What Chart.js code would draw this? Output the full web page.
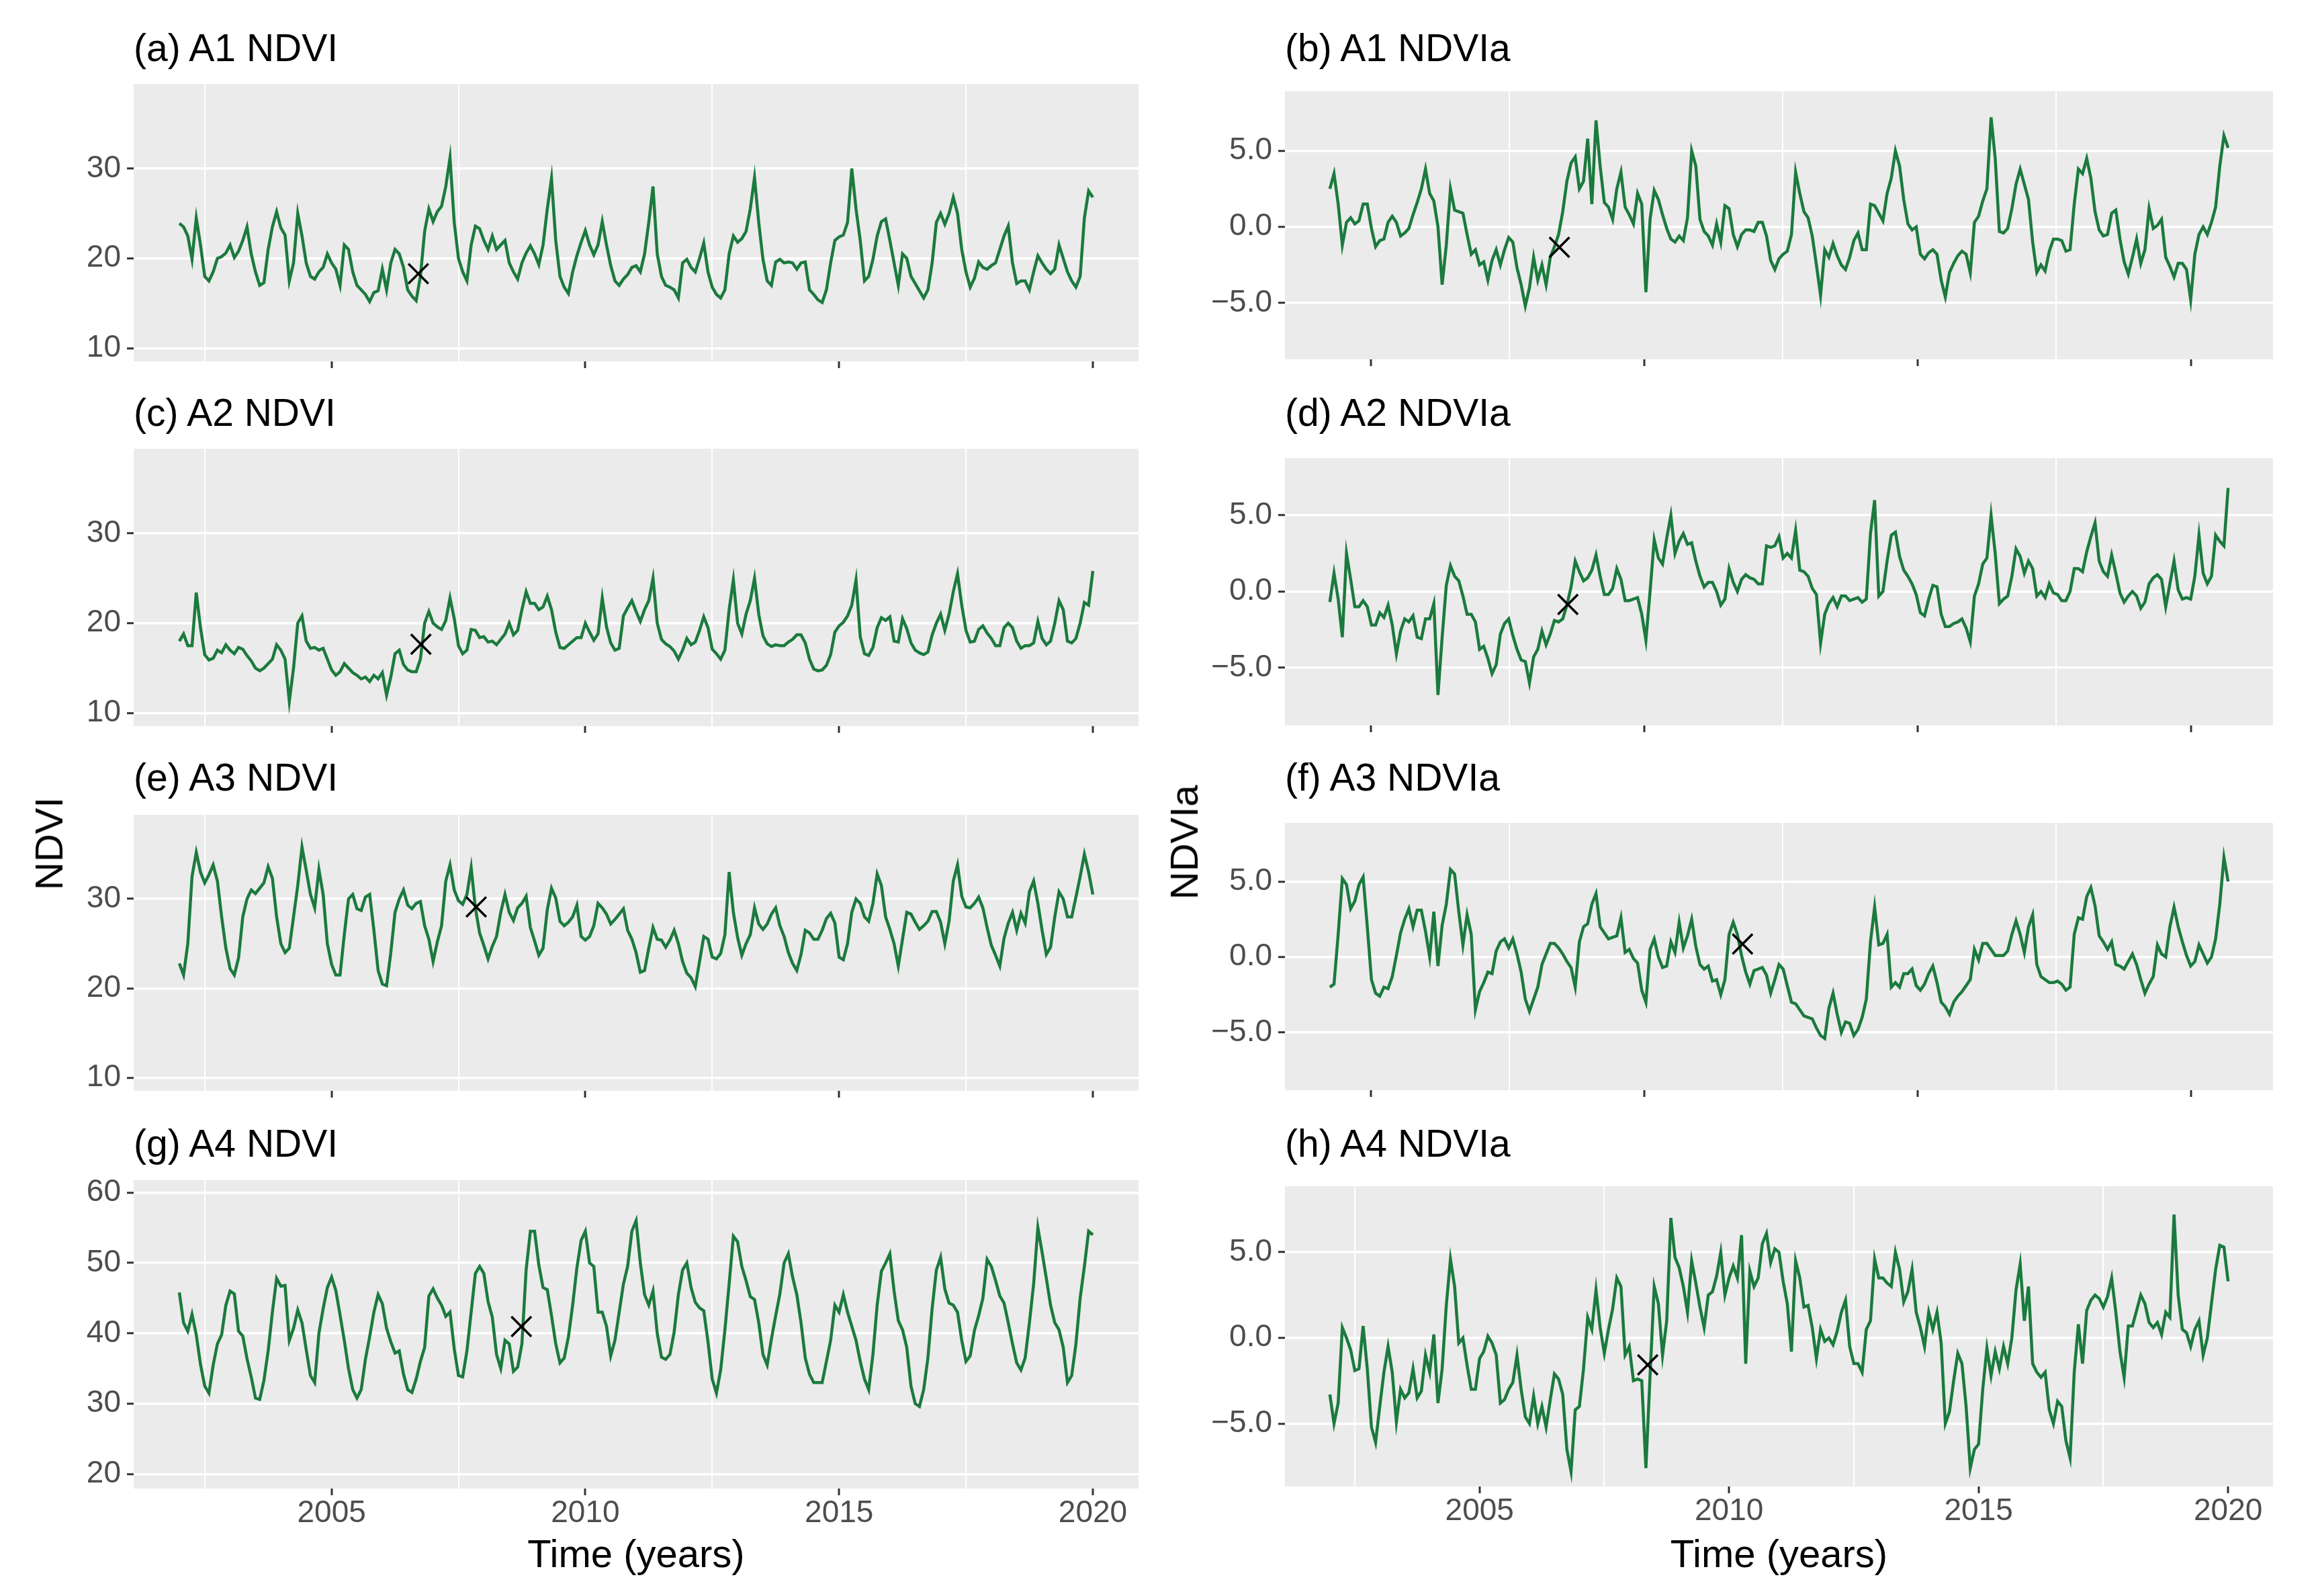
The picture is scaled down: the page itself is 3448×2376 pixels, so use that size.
<!DOCTYPE html>
<html>
<head>
<meta charset="utf-8">
<script src="https://cdn.jsdelivr.net/npm/chart.js@4.4.1/dist/chart.umd.min.js"></script>
<style>
  html, body { margin: 0; padding: 0; background: #fff; }
  #page { position: relative; width: 3448px; height: 2376px; overflow: hidden;
          font-family: "Liberation Sans", Arial, sans-serif; }
  #page canvas { position: absolute; }
  .lbl { position: absolute; white-space: nowrap; line-height: 1; color: #000; }
</style>
</head>
<body>
<div id="page"></div>
<script>
Chart.defaults.font.family = '"Liberation Sans", Arial, sans-serif';
Chart.defaults.animation = false;

// monthly series, first value at 2002.0
const startYear = 2002;
const perYear = 12;

const yearTicks = [2005, 2010, 2015, 2020];
const yearGrid = [2002.5, 2007.5, 2012.5, 2017.5];
// upper NDVIa panels have their own (unlabelled) breaks
const oddTicks = [2002.82, 2008.3, 2013.78, 2019.26];
const oddGrid = [2005.59, 2011.07, 2016.55];

const ndviTicks = [10, 20, 30];
const ndviA4Ticks = [20, 30, 40, 50, 60];
const anomalyTicks = [-5, 0, 5];

const ndviA1 = [
  23.9, 23.5, 22.5, 19.9, 24.5, 21.5, 18.0, 17.5, 18.5, 20.0, 20.2, 20.6,
  21.5, 20.1, 20.8, 22.0, 23.5, 20.5, 18.5, 17.0, 17.3, 21.0, 23.5, 25.2,
  23.4, 22.6, 17.5, 19.5, 25.0, 22.5, 19.5, 18.0, 17.7, 18.5, 19.0, 20.5,
  19.5, 18.8, 17.0, 21.5, 21.0, 18.5, 17.0, 16.5, 16.0, 15.2, 16.2, 16.4,
  18.8, 16.5, 19.5, 21.0, 20.5, 19.0, 16.5, 15.8, 15.3, 18.0, 23.0, 25.5,
  24.1, 25.2, 25.8, 28.0, 31.2, 24.0, 20.0, 18.5, 17.5, 21.5, 23.6, 23.3,
  22.0, 21.0, 22.5, 21.0, 21.5, 22.0, 19.5, 18.5, 17.7, 19.5, 20.6, 21.4,
  20.5, 19.3, 21.5, 25.5, 28.9, 22.0, 18.0, 16.8, 16.1, 18.5, 20.3, 21.8,
  23.1, 21.5, 20.4, 21.5, 24.1, 21.5, 19.2, 17.5, 17.0, 17.7, 18.2, 19.0,
  19.2, 18.5, 20.5, 24.0, 28.0, 20.5, 18.0, 17.0, 16.8, 16.5, 15.6, 19.5,
  19.9, 19.0, 18.5, 20.0, 21.7, 18.5, 16.8, 16.0, 15.6, 16.5, 20.5, 22.5,
  21.8, 22.2, 23.0, 25.5, 29.0, 24.0, 19.9, 17.5, 17.0, 19.6, 19.9, 19.5,
  19.6, 19.5, 18.8, 19.5, 19.6, 16.5, 16.0, 15.4, 15.1, 16.5, 19.5, 22.0,
  22.4, 22.6, 24.0, 30.0, 25.5, 22.0, 17.5, 18.0, 19.9, 22.5, 24.1, 24.4,
  22.0, 19.5, 17.0, 20.5, 20.0, 18.0, 17.2, 16.4, 15.6, 16.5, 19.5, 24.0,
  25.0, 23.8, 25.0, 26.8, 25.0, 21.0, 18.5, 16.8, 17.8, 19.6, 19.0, 18.8,
  19.2, 19.5, 21.0, 22.5, 23.6, 19.5, 17.2, 17.5, 17.5, 16.5, 18.5, 20.3,
  19.5, 18.8, 18.3, 18.8, 21.5, 20.0, 18.5, 17.5, 16.8, 18.0, 24.5, 27.5,
  26.8
];

const ndviaA1 = [
  2.5, 3.5, 1.5, -1.2, 0.3, 0.6, 0.2, 0.4, 1.5, 1.5, -0.1, -1.3,
  -0.9, -0.8, 0.3, 0.7, 0.3, -0.6, -0.4, -0.1, 0.8, 1.6, 2.5, 3.8,
  2.2, 1.7, 0.0, -3.8, -1.2, 2.5, 1.1, 1.0, 0.9, -0.5, -1.8, -1.5,
  -2.5, -2.3, -3.5, -2.2, -1.5, -2.5, -1.5, -0.7, -1.0, -2.7, -3.8, -5.2,
  -4.0, -2.0, -3.5, -2.5, -3.8, -2.0, -1.3, -0.5, 1.0, 3.0, 4.2, 4.6,
  2.5, 3.0, 5.8, 1.5, 7.0, 4.0, 1.6, 1.3, 0.5, 2.5, 3.6, 1.3,
  0.8, 0.2, 2.2, 1.5, -4.3, 0.5, 2.4, 1.8, 0.8, -0.1, -0.8, -1.0,
  -0.6, -0.9, 0.6, 5.0, 4.0, 0.5, -0.3, -0.6, -1.2, 0.2, -1.0, 1.4,
  1.2, -0.5, -1.3, -0.5, -0.2, -0.2, -0.3, 0.3, 0.3, -0.6, -2.2, -2.8,
  -2.1, -1.8, -1.6, -0.5, 3.6, 2.2, 1.0, 0.6, -0.6, -2.5, -4.5, -1.5,
  -2.0, -1.1, -1.9, -2.5, -2.8, -2.0, -0.9, -0.4, -1.5, -1.5, 1.5, 1.4,
  0.9, 0.4, 2.2, 3.2, 5.0, 4.0, 1.8, 0.2, -0.2, 0.0, -1.8, -2.1,
  -1.7, -1.5, -1.8, -3.5, -4.6, -3.0, -2.4, -1.9, -1.6, -1.8, -3.0, 0.3,
  0.7, 1.7, 2.5, 7.2, 4.5, -0.3, -0.4, -0.1, 1.2, 2.8, 3.8, 2.8,
  1.8, -1.0, -3.0, -2.5, -2.9, -1.6, -0.8, -0.8, -0.9, -1.6, -1.5, 1.5,
  3.8, 3.5, 4.5, 3.2, 1.0, -0.2, -0.6, -0.5, 0.9, 1.1, -0.8, -2.3,
  -3.1, -2.0, -0.8, -2.4, -1.5, 1.2, -0.1, 0.1, 0.5, -2.0, -2.6, -3.3,
  -2.4, -2.4, -2.8, -4.8, -1.8, -0.5, 0.0, -0.5, 0.3, 1.3, 4.0, 6.0,
  5.2
];

const ndviA2 = [
  18.0, 18.8, 17.5, 17.5, 23.4, 19.5, 16.5, 15.9, 16.1, 17.0, 16.7, 17.6,
  17.0, 16.6, 17.3, 17.1, 16.4, 15.8, 15.0, 14.7, 15.0, 15.5, 16.0, 17.6,
  17.0, 16.0, 11.3, 15.0, 20.0, 20.8, 18.0, 17.2, 17.3, 17.0, 17.2, 16.0,
  14.8, 14.2, 14.6, 15.5, 15.0, 14.5, 14.2, 13.8, 14.0, 13.5, 14.2, 13.8,
  14.5, 12.0, 14.0, 16.6, 17.0, 15.4, 14.8, 14.6, 14.6, 16.0, 20.0, 21.3,
  20.0, 19.6, 19.3, 20.3, 22.8, 20.5, 17.5, 16.6, 17.0, 19.3, 19.2, 18.4,
  18.5, 17.9, 18.0, 17.6, 18.2, 18.8, 20.0, 18.7, 19.2, 21.5, 23.5, 22.2,
  22.2, 21.5, 21.8, 23.0, 21.5, 19.0, 17.3, 17.2, 17.6, 18.0, 18.4, 18.4,
  20.0, 19.0, 18.1, 18.8, 22.8, 19.6, 17.8, 17.0, 17.2, 20.8, 21.7, 22.5,
  21.3, 20.2, 21.5, 22.5, 25.0, 20.0, 18.2, 17.7, 17.4, 16.9, 16.0, 17.0,
  18.3, 17.6, 17.9, 19.2, 20.7, 19.5, 17.1, 16.6, 16.0, 17.0, 21.5, 24.8,
  20.0, 18.8, 21.0, 22.5, 25.0, 21.0, 18.6, 17.7, 17.4, 17.6, 17.5, 17.5,
  17.9, 18.2, 18.7, 18.7, 17.8, 16.0, 14.9, 14.7, 14.8, 15.3, 16.5, 19.0,
  19.7, 20.1, 20.8, 22.0, 24.8, 18.5, 16.6, 16.4, 17.3, 19.5, 20.6, 20.3,
  20.7, 18.0, 17.9, 20.5, 19.4, 17.8, 17.0, 16.7, 16.5, 16.8, 18.7, 20.0,
  21.0, 19.2, 21.0, 23.5, 25.5, 22.0, 19.2, 17.9, 18.0, 19.3, 19.7, 18.9,
  18.3, 17.5, 17.5, 19.5, 20.0, 19.5, 18.0, 17.2, 17.5, 17.5, 17.8, 20.2,
  18.3, 17.6, 18.0, 20.0, 22.5, 21.5, 18.0, 17.8, 18.3, 20.0, 22.3, 22.0,
  25.8
];

const ndviaA2 = [
  -0.7, 1.2, -0.5, -3.0, 2.5, 0.8, -1.0, -1.0, -0.6, -1.0, -2.2, -2.2,
  -1.4, -1.7, -0.9, -2.2, -4.1, -2.6, -1.8, -2.0, -1.6, -3.0, -3.1, -1.8,
  -1.8, -0.8, -6.8, -3.0, 0.4, 1.7, 1.0, 0.7, -0.3, -1.5, -1.5, -2.0,
  -3.8, -3.6, -4.4, -5.4, -4.8, -2.8, -2.1, -1.8, -2.9, -3.8, -4.5, -4.6,
  -6.0, -4.3, -3.8, -2.6, -3.5, -2.8, -1.9, -2.0, -1.8, -0.9, 0.3, 2.0,
  1.3, 0.7, 0.9, 1.4, 2.4, 1.0, -0.2, -0.2, 0.2, 1.5, 0.8, -0.6,
  -0.6, -0.5, -0.4, -1.5, -3.2, 0.0, 3.4, 2.2, 1.8, 3.5, 5.0, 2.5,
  3.3, 3.8, 3.1, 3.2, 2.0, 1.0, 0.3, 0.6, 0.6, 0.0, -0.9, -0.5,
  1.5, 0.6, 0.0, 0.8, 1.1, 0.9, 0.8, 0.5, 0.5, 3.0, 2.9, 3.0,
  3.6, 2.2, 2.5, 2.2, 4.0, 1.4, 1.3, 1.0, 0.2, -0.2, -3.4, -1.5,
  -0.8, -0.4, -1.0, -0.3, -0.3, -0.6, -0.5, -0.4, -0.7, -0.5, 3.8, 6.0,
  -0.3, 0.0, 2.0, 3.7, 3.9, 2.3, 1.4, 1.0, 0.5, -0.2, -1.4, -1.6,
  -0.5, 0.4, 0.3, -1.5, -2.3, -2.3, -2.1, -2.0, -1.8, -2.4, -3.3, -0.3,
  0.5, 1.8, 2.2, 5.0, 2.5, -0.8, -0.5, -0.3, 1.0, 2.8, 2.3, 1.2,
  2.0, 1.5, -0.3, 0.0, -0.4, 0.5, -0.1, -0.2, -0.6, -0.6, 0.0, 1.5,
  1.5, 1.3, 2.6, 3.6, 4.5, 2.0, 1.3, 1.0, 2.4, 1.2, -0.1, -0.7,
  -0.3, 0.0, -0.3, -1.1, -0.7, 0.5, 0.9, 1.1, 0.8, -1.0, 0.5, 2.0,
  0.1, -0.5, -0.4, -0.5, 1.0, 3.7, 1.2, 0.5, 1.0, 3.7, 3.3, 3.0,
  6.8
];

const ndviA3 = [
  22.8, 21.5, 25.0, 32.5, 35.2, 33.0, 31.8, 32.7, 33.8, 32.0, 28.0, 24.5,
  22.2, 21.5, 23.4, 28.0, 30.0, 31.0, 30.6, 31.2, 31.8, 33.6, 32.3, 28.0,
  25.0, 24.0, 24.5, 28.0, 31.5, 35.8, 33.2, 30.5, 29.0, 33.3, 30.5, 25.0,
  22.7, 21.5, 21.5, 26.0, 30.0, 30.5, 28.9, 28.7, 30.2, 30.5, 26.5, 22.0,
  20.5, 20.3, 24.0, 28.5, 30.0, 31.0, 29.3, 28.9, 29.5, 29.7, 27.0, 25.5,
  23.0, 25.2, 27.0, 32.0, 33.8, 31.0, 29.8, 29.4, 30.5, 33.5, 29.0, 26.2,
  24.8, 23.3, 24.7, 25.8, 28.5, 30.5, 28.5, 27.6, 29.0, 29.5, 30.3, 26.8,
  25.3, 23.7, 24.5, 28.8, 31.2, 30.1, 27.5, 27.0, 27.4, 28.0, 29.3, 25.8,
  25.4, 25.8, 27.0, 29.5, 29.0, 28.3, 27.2, 27.7, 28.3, 28.9, 26.5, 25.5,
  24.0, 21.8, 22.0, 24.5, 26.8, 25.5, 25.4, 24.6, 25.4, 26.5, 25.0, 23.0,
  21.7, 21.2, 20.2, 23.0, 25.8, 25.5, 23.5, 23.3, 23.9, 26.0, 33.0, 28.5,
  25.7, 23.7, 25.0, 26.0, 29.0, 27.2, 26.6, 27.2, 28.3, 29.0, 27.0, 25.8,
  24.0, 22.8, 22.0, 23.8, 26.5, 26.2, 25.5, 25.5, 26.5, 27.8, 28.4, 27.3,
  23.5, 23.2, 25.0, 28.5, 30.0, 29.5, 28.0, 27.5, 29.5, 32.8, 31.5, 28.0,
  26.6, 25.0, 22.5, 25.5, 28.5, 28.3, 27.4, 26.6, 27.0, 27.5, 28.6, 28.6,
  27.4, 25.0, 27.5, 32.0, 33.8, 30.3, 29.1, 29.0, 29.5, 30.2, 29.0, 26.8,
  24.8, 23.7, 22.5, 25.6, 27.3, 28.5, 26.5, 28.4, 27.3, 30.8, 32.0, 29.5,
  26.5, 23.8, 24.6, 28.0, 30.8, 30.0, 28.0, 28.0, 30.2, 32.5, 35.0, 33.0,
  30.5
];

const ndviaA3 = [
  -2.0, -1.8, 1.5, 5.2, 4.8, 3.2, 3.7, 4.8, 5.3, 2.0, -1.5, -2.4,
  -2.6, -2.0, -2.1, -1.3, 0.1, 1.6, 2.5, 3.2, 2.0, 3.1, 3.1, 1.7,
  0.0, 3.0, -0.6, 2.1, 3.5, 5.8, 5.5, 3.0, 0.8, 2.8, 1.5, -3.5,
  -2.3, -1.7, -1.0, -1.1, 0.4, 1.0, 1.2, 0.6, 1.2, 0.2, -1.0, -2.8,
  -3.6, -2.8, -2.0, -0.5, 0.2, 0.9, 0.9, 0.6, 0.2, -0.3, -0.7, -2.0,
  1.0, 2.0, 2.2, 3.5, 4.2, 2.0, 1.6, 1.2, 1.3, 1.4, 2.6, 0.3,
  0.5, -0.1, -0.4, -2.2, -3.0, 0.5, 1.2, 0.0, -0.7, -0.6, 1.0, 0.3,
  2.3, 0.6, 1.4, 2.5, 0.7, -0.5, -0.8, -0.6, -1.6, -1.5, -2.5, -1.5,
  1.5, 2.3, 1.5, 0.1, -1.0, -1.8, -0.9, -0.8, -0.7, -1.2, -2.4, -1.5,
  -0.5, -0.8, -1.9, -3.0, -3.1, -3.5, -3.9, -4.0, -4.1, -4.7, -5.2, -5.4,
  -3.4, -2.4, -3.8, -5.0, -4.3, -4.4, -5.2, -4.8, -4.0, -2.8, 1.0, 3.3,
  0.8, 0.9, 1.5, -2.0, -1.7, -2.0, -1.1, -1.1, -0.8, -1.9, -2.2, -1.8,
  -1.1, -0.6, -1.7, -3.0, -3.3, -3.8, -3.0, -2.6, -2.3, -1.9, -1.5, 0.5,
  -0.2, 0.9, 0.9, 0.5, 0.1, 0.1, 0.1, 0.4, 1.5, 2.4, 1.5, 0.3,
  2.0, 2.8, -0.5, -1.3, -1.5, -1.7, -1.7, -1.6, -1.8, -2.2, -2.0, 1.5,
  2.6, 2.5, 4.0, 4.6, 3.4, 1.4, 1.0, 0.5, 1.0, -0.5, -0.6, -0.8,
  -0.3, 0.2, -0.5, -1.5, -2.4, -1.8, -1.3, 0.8, 0.2, 0.0, 2.0, 3.3,
  2.0, 1.0, 0.1, -0.6, -0.3, 0.8, 0.2, -0.4, 0.0, 1.2, 3.5, 6.6,
  5.0
];

const ndviA4 = [
  45.8, 41.5, 40.3, 42.7, 39.8, 35.6, 32.5, 31.5, 35.5, 38.5, 39.8, 44.0,
  46.0, 45.6, 40.3, 39.6, 36.4, 33.8, 30.8, 30.6, 33.3, 37.5, 43.0, 47.8,
  46.7, 46.8, 39.0, 40.7, 43.3, 41.5, 37.7, 34.0, 33.0, 40.0, 43.5, 46.5,
  48.0, 46.1, 42.6, 39.0, 35.0, 32.0, 30.8, 32.0, 36.3, 39.5, 43.0, 45.5,
  44.2, 40.7, 38.8, 37.2, 37.5, 34.2, 32.0, 31.6, 33.5, 36.0, 38.0, 45.3,
  46.3, 45.0, 44.0, 42.4, 43.0, 37.8, 34.0, 33.8, 37.5, 43.0, 48.5, 49.5,
  48.5, 44.5, 42.3, 37.0, 35.0, 39.0, 38.5, 34.6, 35.2, 38.5, 49.0, 54.5,
  54.5, 49.7, 46.5, 46.2, 42.5, 38.5, 35.8, 36.5, 39.5, 44.0, 49.3, 53.2,
  54.5, 50.0, 49.5, 43.0, 43.0, 41.0, 36.8, 39.0, 43.0, 47.0, 49.5, 54.5,
  56.0, 50.0, 45.5, 44.0, 46.0, 40.0, 36.6, 36.3, 37.0, 40.2, 45.5, 49.0,
  50.0, 46.5, 44.4, 43.6, 43.2, 38.8, 33.5, 31.5, 34.8, 40.5, 47.0, 53.8,
  53.0, 49.5, 47.5, 45.2, 44.8, 41.5, 37.0, 35.5, 39.2, 42.5, 45.6, 50.0,
  51.3, 48.0, 45.5, 41.5, 36.5, 34.2, 33.0, 33.0, 33.0, 36.0, 39.0, 44.0,
  43.0, 45.5, 43.0, 41.0, 39.0, 36.0, 33.5, 32.0, 37.0, 44.0, 48.8, 50.0,
  51.3, 46.0, 41.8, 40.5, 38.0, 32.5, 30.0, 29.6, 32.0, 36.5, 43.5, 49.0,
  50.8, 46.3, 44.3, 44.0, 43.0, 39.0, 36.0, 36.8, 40.4, 42.5, 45.0, 50.5,
  49.5, 47.5, 45.3, 44.3, 41.5, 38.5, 35.8, 34.8, 36.5, 41.5, 47.0, 55.0,
  51.5, 47.8, 44.0, 41.5, 40.5, 38.0, 33.0, 34.0, 38.5, 45.0, 49.5, 54.5,
  54.0
];

const ndviaA4 = [
  -3.3, -5.0, -3.8, 0.6, 0.0, -0.7, -1.9, -1.8, 0.7, -1.8, -5.2, -6.1,
  -4.0, -2.0, -0.5, -2.0, -4.9, -3.0, -3.5, -3.2, -1.8, -3.5, -3.1, -1.0,
  -2.0, 0.2, -3.8, -1.8, 1.9, 4.6, 3.0, -0.3, 0.0, -1.6, -3.0, -3.0,
  -1.2, -0.8, 0.1, -0.3, -1.0, -3.8, -3.6, -3.0, -2.6, -1.0, -3.0, -4.6,
  -5.0, -3.4, -5.0, -4.0, -5.2, -3.6, -2.1, -2.4, -3.3, -6.5, -7.8, -4.2,
  -4.0, -1.8, 1.2, 0.5, 2.8, 0.6, -0.9, 0.5, 1.7, 3.5, 3.0, -1.0,
  -0.5, -2.5, -2.4, -2.5, -7.6, -2.2, 3.0, 2.0, -1.0, 1.0, 7.0, 4.7,
  4.1, 3.0, 1.5, 4.5, 3.2, 1.8, 0.6, 2.5, 2.7, 3.6, 5.0, 2.5,
  3.5, 4.2, 3.5, 6.0, -1.5, 3.9, 3.0, 3.5, 5.5, 6.1, 4.4, 5.2,
  5.0, 3.3, 2.0, -0.8, 4.5, 3.5, 1.8, 1.9, 0.6, -1.2, 0.5, -0.2,
  0.0, -0.4, 0.4, 1.5, 2.2, -0.5, -1.5, -1.5, -2.0, 0.5, 1.0, 4.6,
  3.5, 3.5, 3.2, 3.0, 5.0, 4.0, 2.1, 2.7, 4.0, 1.5, 0.6, -0.5,
  1.5, 0.5, 1.5, -0.3, -5.0, -4.3, -2.5, -0.9, -1.5, -4.0, -7.6, -6.5,
  -6.2, -3.0, -0.6, -2.2, -0.8, -1.8, -0.5, -1.5, 0.0, 2.8, 4.3, 1.0,
  3.0, -1.5, -2.0, -2.3, -2.0, -4.2, -5.0, -3.7, -4.0, -6.0, -7.0, -2.0,
  0.8, -1.5, 1.6, 2.2, 2.5, 2.3, 1.8, 2.4, 3.5, 1.5, -0.8, -2.3,
  0.7, 0.7, 1.6, 2.5, 2.0, 0.9, 0.6, 0.9, 0.2, 1.5, 1.2, 7.2,
  2.5, 0.5, 0.3, -0.5, 0.5, 1.0, -1.0, 0.0, 2.0, 4.0, 5.4, 5.3,
  3.3
];

// the "x" marks, one per panel (a..h)
const markerYears = [2006.71, 2006.60, 2006.76, 2006.77, 2007.85, 2010.27, 2008.74, 2008.37];
const markerValues = [18.3, -1.34, 17.65, -0.85, 29.1, 0.86, 40.96, -1.57];

const GREEN = '#1b7a3d';
const YW = 200, PAD_T = 40, PAD_R = 40, XH = 90;
const TITLE_PX = 57, AXIS_TITLE_PX = 58, TICK_PX = 46;
const cols = { L: { x: 199, w: 1496 }, R: { x: 1913, w: 1471 } };

const panels = [
  { title: '(a) A1 NDVI',  values: ndviA1,  col: 'L', top: 125,  h: 413, titleY: 91,   y: [8.55, 39.4],   yTicks: ndviTicks },
  { title: '(b) A1 NDVIa', values: ndviaA1, col: 'R', top: 136,  h: 399, titleY: 91,   y: [-8.71, 8.91],  yTicks: anomalyTicks, odd: true },
  { title: '(c) A2 NDVI',  values: ndviA2,  col: 'L', top: 668,  h: 413, titleY: 634,  y: [8.55, 39.4],   yTicks: ndviTicks },
  { title: '(d) A2 NDVIa', values: ndviaA2, col: 'R', top: 682,  h: 398, titleY: 634,  y: [-8.8, 8.76],   yTicks: anomalyTicks, odd: true },
  { title: '(e) A3 NDVI',  values: ndviA3,  col: 'L', top: 1213, h: 411, titleY: 1177, y: [8.55, 39.4],   yTicks: ndviTicks },
  { title: '(f) A3 NDVIa', values: ndviaA3, col: 'R', top: 1225, h: 398, titleY: 1177, y: [-8.83, 8.89],  yTicks: anomalyTicks, odd: true },
  { title: '(g) A4 NDVI',  values: ndviA4,  col: 'L', top: 1757, h: 459, titleY: 1722, y: [17.95, 61.75], yTicks: ndviA4Ticks, bottom: true },
  { title: '(h) A4 NDVIa', values: ndviaA4, col: 'R', top: 1766, h: 447, titleY: 1722, y: [-8.67, 8.85],  yTicks: anomalyTicks, bottom: true }
];

const page = document.getElementById('page');

// grey ggplot panel behind the grid
const panelBg = {
  id: 'panelBg',
  beforeDraw(chart) {
    const { ctx, chartArea: a } = chart;
    ctx.save();
    ctx.fillStyle = '#ebebeb';
    ctx.fillRect(a.left, a.top, a.right - a.left, a.bottom - a.top);
    ctx.restore();
  }
};

const fmtAnomaly = v => (v < 0 ? '\u2212' : '') + Math.abs(v).toFixed(1);

// text placed by its baseline (line-height 1, Liberation Sans ascent/descent)
const addText = (text, x, baseline, size, extra) => {
  const d = document.createElement('div');
  d.className = 'lbl';
  d.textContent = text;
  d.style.fontSize = size + 'px';
  d.style.left = x + 'px';
  d.style.top = (baseline - 0.8465 * size) + 'px';
  if (extra) Object.assign(d.style, extra);
  page.appendChild(d);
};

panels.forEach((p, i) => {
  const col = cols[p.col];
  const W = YW + col.w + PAD_R, H = PAD_T + p.h + XH;
  const cv = document.createElement('canvas');
  cv.width = W; cv.height = H;
  cv.style.left = (col.x - YW) + 'px';
  cv.style.top = (p.top - PAD_T) + 'px';
  cv.style.width = W + 'px'; cv.style.height = H + 'px';
  page.appendChild(cv);

  const majors = p.odd ? oddTicks : yearTicks;
  const minors = p.odd ? oddGrid : yearGrid;
  const isMinor = ctx => ctx.tick && minors.includes(ctx.tick.value);
  const anomaly = p.yTicks === anomalyTicks;

  new Chart(cv, {
    type: 'line',
    data: {
      datasets: [
        {
          type: 'scatter',
          data: [{ x: markerYears[i], y: markerValues[i] }],
          pointStyle: 'crossRot',
          pointRadius: 21,
          pointBorderWidth: 3.5,
          pointBorderColor: '#000',
          pointBackgroundColor: '#000',
          order: 0
        },
        {
          data: p.values.map((v, k) => ({ x: startYear + k / perYear, y: v })),
          borderColor: GREEN,
          borderWidth: 4.5,
          pointRadius: 0,
          tension: 0,
          order: 1
        }
      ]
    },
    options: {
      responsive: false,
      devicePixelRatio: 1,
      animation: false,
      layout: { padding: { top: PAD_T, right: PAD_R, left: 0, bottom: 0 } },
      plugins: { legend: { display: false }, tooltip: { enabled: false } },
      scales: {
        x: {
          type: 'linear',
          min: 2001.1,
          max: 2020.9,
          afterBuildTicks: s => { s.ticks = minors.concat(majors).sort((a, b) => a - b).map(v => ({ value: v })); },
          afterFit: s => { s.height = XH; },
          border: { display: false },
          grid: {
            color: c => isMinor(c) ? '#ffffff' : 'rgba(0,0,0,0)',
            lineWidth: 2,
            tickColor: c => isMinor(c) ? 'rgba(0,0,0,0)' : '#333333',
            tickLength: 10,
            tickWidth: 3
          },
          ticks: {
            autoSkip: false,
            maxRotation: 0,
            minRotation: 0,
            padding: 0,
            color: '#4d4d4d',
            font: { size: TICK_PX },
            callback: v => (p.bottom && yearTicks.includes(v)) ? String(v) : ''
          }
        },
        y: {
          min: p.y[0],
          max: p.y[1],
          afterBuildTicks: s => { s.ticks = p.yTicks.map(v => ({ value: v })); },
          afterFit: s => { s.width = YW; },
          border: { display: false },
          grid: {
            color: '#ffffff',
            lineWidth: 3.5,
            tickColor: '#333333',
            tickLength: 10,
            tickWidth: 3
          },
          ticks: {
            padding: 9,
            color: '#4d4d4d',
            font: { size: TICK_PX },
            callback: v => anomaly ? fmtAnomaly(v) : String(v)
          }
        }
      }
    },
    plugins: [panelBg]
  });

  addText(p.title, col.x, p.titleY, TITLE_PX);
});

// axis titles
addText('Time (years)', cols.L.x + cols.L.w / 2, 2333, AXIS_TITLE_PX, { transform: 'translateX(-50%)' });
addText('Time (years)', cols.R.x + cols.R.w / 2, 2333, AXIS_TITLE_PX, { transform: 'translateX(-50%)' });
addText('NDVI', 73, 1256 + 0.8465 * AXIS_TITLE_PX - AXIS_TITLE_PX / 2, AXIS_TITLE_PX,
        { transform: 'translate(-50%, 0) rotate(-90deg)', transformOrigin: '50% 50%' });
addText('NDVIa', 1763, 1254 + 0.8465 * AXIS_TITLE_PX - AXIS_TITLE_PX / 2, AXIS_TITLE_PX,
        { transform: 'translate(-50%, 0) rotate(-90deg)', transformOrigin: '50% 50%' });
</script>
</body>
</html>
